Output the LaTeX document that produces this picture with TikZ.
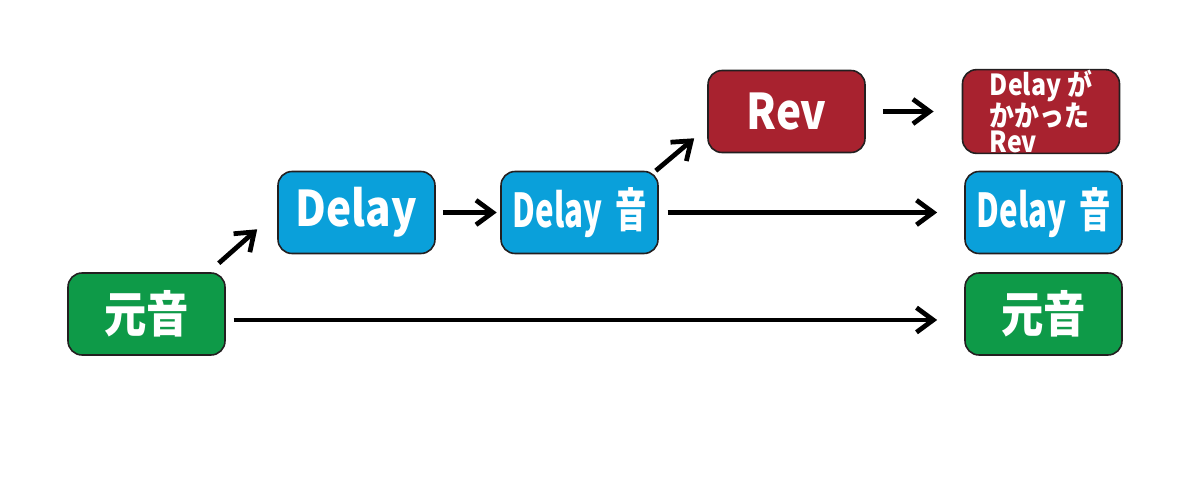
\documentclass[tikz,border=0pt]{standalone}
\usepackage{fontspec}
\setmainfont{Noto Sans CJK JP}[FakeStretch=0.86]
\usetikzlibrary{positioning,arrows.meta}
\definecolor{origgreen}{HTML}{0E9A48}
\definecolor{delayblue}{HTML}{0AA0DA}
\definecolor{revred}{HTML}{A8222F}
\definecolor{edgegray}{HTML}{231F20}
\newcommand{\delayoto}{\scalebox{0.74}[0.95]{Delay\hspace{0.35em}音}}

\begin{document}
\begin{tikzpicture}[%
		x=0.02cm,
		y=-0.02cm,
		->,
		>={Straight Barb[length=9.5pt,width=14pt]},
		line width=2.7pt,
		stagebox/.style={%
			draw=edgegray,
			line width=0.9pt,
			rounded corners=0.28cm,
			minimum width=3.14cm,
			minimum height=1.64cm,
			inner sep=0pt,
			text=white,
			font=\bfseries\fontsize{28}{28}\selectfont
		}
		]
		\useasboundingbox (0,0) rectangle (1197,499);
		\node[stagebox, fill=origgreen] (1)  at (146.5,314)   {元音};
		\node[stagebox, fill=delayblue] (2)  at (356.5,212.5) {Delay};
		\node[stagebox, fill=delayblue] (3)  at (579.5,212.5) {\delayoto};
		\node[stagebox, fill=revred]    (4)  at (786.5,111.5) {Rev};
		\node[stagebox, fill=revred, align=left,
			font=\bfseries\fontsize{16.5}{14.8}\selectfont] (4r) at (1041,111.5) {Delay が\\かかった\\Rev};
		\node[stagebox, fill=delayblue] (3r) at (1043.5,212.5) {\delayoto};
		\node[stagebox, fill=origgreen] (1r) at (1043.5,314)   {元音};
		
		% direct paths
		\draw[shorten <=4.5pt, shorten >=15.4pt] ([yshift=-0.12cm]1.east) -- ([yshift=-0.12cm]1r.west);
		\path (2) edge[shorten <=4pt, shorten >=2pt] (3)
		(3) edge[shorten <=5pt, shorten >=15.4pt] (3r)
		(4) edge[shorten <=9.7pt, shorten >=16pt] (4r);
		% diagonal steps
		\draw ([shift={(-7,-9)}]1.north east) -- ([shift={(-20,-25)}]2.south west);
		\draw ([shift={(-3,0)}]3.north east) -- ([shift={(-13,-15)}]4.south west);
\end{tikzpicture}
\end{document}
